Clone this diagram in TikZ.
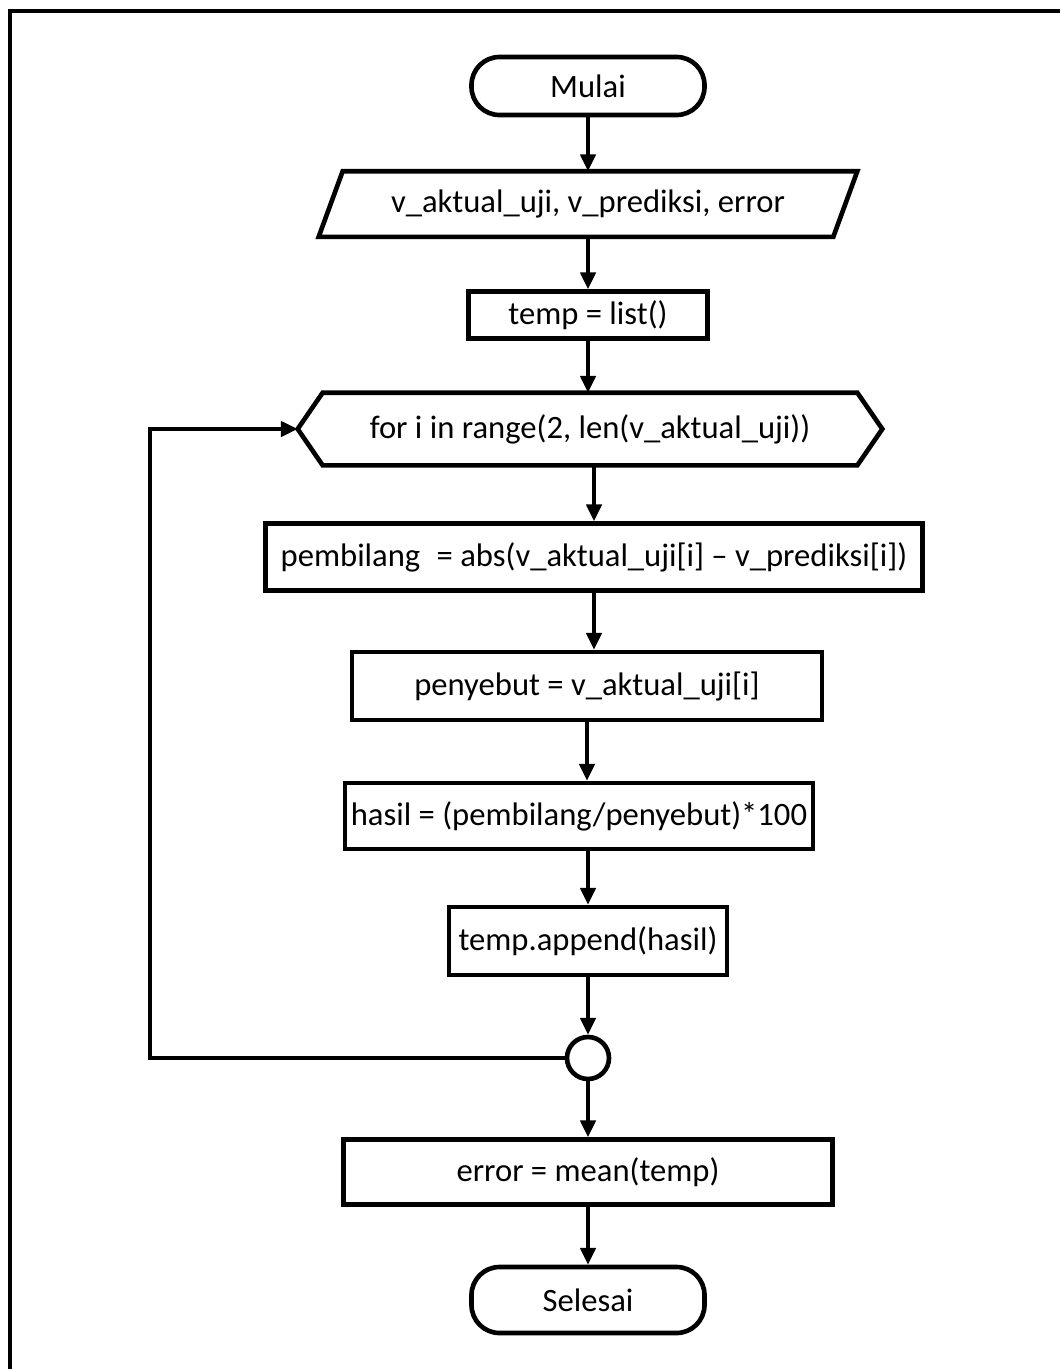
\documentclass[tikz,border=0pt]{standalone}
\usepackage{fontspec}
\setmainfont{Carlito}
\usetikzlibrary{arrows.meta,positioning,calc}
\newdimen\px \px=0.025cm
\tikzset{
  box/.style={draw,line width=3.3pt,align=center,inner sep=2pt,font=\fontsize{23.2}{27}\selectfont},
  term/.style={box,rounded corners=28*\px},
  hidden/.style={box,draw=none},
  conn/.style={draw,circle,line width=3.3pt,minimum size=42*\px,inner sep=0pt},
  shp/.style={line width=3.3pt,line join=miter},
  ar/.style={-{Triangle[length=12pt,width=11pt]},line width=2.3pt},
}
\begin{document}
\begin{tikzpicture}[x=\px,y=-\px]
  \useasboundingbox (0,0) rectangle (1060,1369);
  % frame
  \draw[line width=3pt] (10,1369) -- (10,11) -- (1060,11);

  \node[term,minimum width=233*\px,minimum height=58*\px] (start) at (588,86) {Mulai};
  \node[hidden,minimum width=510*\px,minimum height=61*\px] (in) at (588,204) {v\_aktual\_uji, v\_prediksi, error};
  \draw[shp] ($(in.north west)+(12,0)$) -- ($(in.north east)+(12,0)$) -- ($(in.south east)+(-12,0)$) -- ($(in.south west)+(-12,0)$) -- cycle;
  \node[box,minimum width=239*\px,minimum height=47*\px] (init) at (588,315) {temp = list()};
  \node[hidden,minimum width=530*\px,minimum height=68*\px] (for) at (590,429) {for i in range(2, len(v\_aktual\_uji))};
  \draw[shp] (for.north west) -- (for.north east) -- ($(for.east)+(25,0)$) -- (for.south east) -- (for.south west) -- ($(for.west)+(-25,0)$) -- cycle;
  \coordinate (forin) at ($(for.west)+(-25,0)$);
  \node[box,minimum width=657*\px,minimum height=67*\px] (pemb) at (594,557) {pembilang\enspace= abs(v\_aktual\_uji[i] – v\_prediksi[i])};
  \node[box,minimum width=470*\px,minimum height=68*\px] (peny) at (587,686) {penyebut = v\_aktual\_uji[i]};
  \node[box,minimum width=468*\px,minimum height=66*\px] (hasil) at (579,816) {hasil = (pembilang/penyebut)*100};
  \node[box,minimum width=278*\px,minimum height=68*\px] (app) at (588,941) {temp.append(hasil)};
  \node[conn] (join) at (588,1058) {};
  \node[box,minimum width=489*\px,minimum height=65*\px] (err) at (588,1172) {error = mean(temp)};
  \node[term,minimum width=233*\px,minimum height=66*\px] (stop) at (588,1300) {Selesai};
  \coordinate (bend) at (150,1058);

  \draw[ar] (start) -- (in);
  \draw[ar] (in) -- (init);
  \draw[ar] (init.south) -- (init.south |- for.north);
  \draw[ar] (pemb.north |- for.south) -- (pemb.north);
  \draw[ar] (pemb.south) -- (pemb.south |- peny.north);
  \draw[ar] (peny.south) -- (peny.south |- hasil.north);
  \draw[ar] (app.north |- hasil.south) -- (app.north);
  \draw[ar] (app) -- (join);
  \draw[ar] (join) -- (err);
  \draw[ar] (err) -- (stop);
  % loop back
  \draw[ar] (join.west) -- (bend) |- (forin);
\end{tikzpicture}
\end{document}
